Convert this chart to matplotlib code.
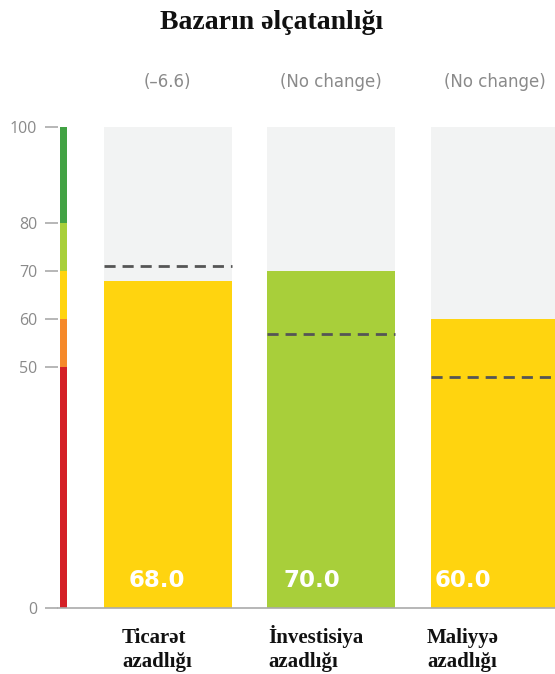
import matplotlib
matplotlib.use("Agg")
import matplotlib.pyplot as plt

title = "Bazarın əlçatanlığı"
categories = [["Ticarət", "azadlığı"], ["İnvestisiya", "azadlığı"], ["Maliyyə", "azadlığı"]]
scores = [68.0, 70.0, 60.0]
averages = [71, 57, 48]
changes = ["(–6.6)", "(No change)", "(No change)"]
bar_colors = ["#FFD40F", "#A8CF3A", "#FFD40F"]
yticks = [0, 50, 60, 70, 80, 100]
band_edges = [0, 50, 60, 70, 80, 100]
band_colors = ["#D42027", "#F5892B", "#FFD40F", "#A8CF3A", "#42A244"]

W, H = 555, 674
fig = plt.figure(figsize=(W / 100, H / 100), dpi=100)

def px(x0, y0, x1, y1):
    return [x0 / W, 1 - y1 / H, (x1 - x0) / W, (y1 - y0) / H]

ax = fig.add_axes(px(58, 127, 555, 608))
step = 163.75
c0 = 167.5
ax.set_xlim((58 - c0) / step, (555 - c0) / step)
ax.set_ylim(0, 100)

x = list(range(len(scores)))
bw = 128 / step
ax.bar(x, [100] * len(x), width=bw, color="#F2F3F3", zorder=1)
ax.bar(x, scores, width=bw, color=bar_colors, zorder=2)
for xi, a in zip(x, averages):
    ax.hlines(a, xi - bw / 2, xi + bw / 2, colors="#555555", linewidth=2,
              linestyles=(0, (4, 2.5)), zorder=3)

# colour scale strip
sx = (63.5 - c0) / step
sw = 7 / step
for lo, hi, col in zip(band_edges[:-1], band_edges[1:], band_colors):
    ax.bar(sx, hi - lo, bottom=lo, width=sw, color=col, zorder=2)

for s in ["top", "right", "left"]:
    ax.spines[s].set_visible(False)
ax.spines["bottom"].set_color("#AAAAAA")
ax.spines["bottom"].set_linewidth(1.2)
ax.set_xticks([])
ax.set_yticks(yticks)
ax.set_yticklabels([str(t) for t in yticks])
ax.tick_params(axis="y", length=9.4, width=1.2, color="#AAAAAA", pad=5.5,
               labelsize=11.5, labelcolor="#8A8A8A")
for lab in ax.get_yticklabels():
    lab.set_fontfamily(["Open Sans", "DejaVu Sans"])

# value labels (left edges in px offsets from bar centre)
value_offsets = [-38.5, -48, -60]
for xi, v, off in zip(x, scores, value_offsets):
    ax.text(xi + off / step, 5.8, f"{v:.1f}", ha="left", va="center", color="white",
            fontsize=16.5, fontweight="bold", family=["DejaVu Sans"], zorder=4)

for xi, c in zip(x, changes):
    ax.text(xi, (608 - 82) / 4.81, c, ha="center", va="center", color="#8A8A8A",
            fontsize=12, family=["DejaVu Sans"], clip_on=False)

label_left = [122, 268, 427]
for lx, lines in zip(label_left, categories):
    for i, line in enumerate(lines):
        fig.text(lx / W, 1 - (643 + 24 * i) / H, line, ha="left", va="baseline",
                 fontsize=15, fontweight="bold",
                 family=["Liberation Serif", "DejaVu Serif"], color="#111111")

fig.text(272 / W, 1 - 29 / H, title, ha="center", va="baseline", fontsize=20,
         fontweight="bold", family=["Liberation Serif", "DejaVu Serif"], color="#111111")

fig.savefig("out.png", dpi=100)
